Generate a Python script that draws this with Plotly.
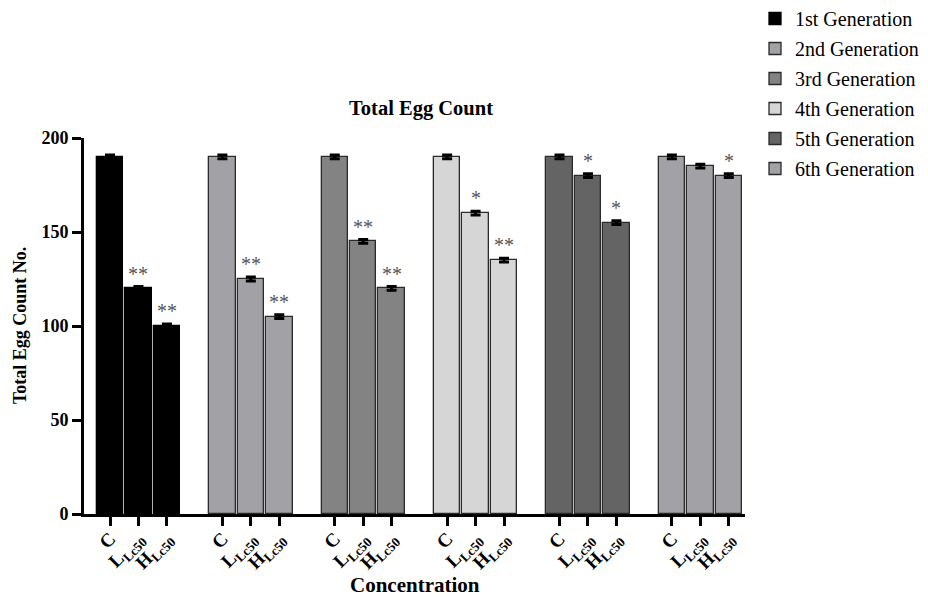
import plotly.graph_objects as go

generations = ["1st Generation", "2nd Generation", "3rd Generation",
               "4th Generation", "5th Generation", "6th Generation"]
concentrations = ["C", "L<sub>Lc50</sub>", "H<sub>Lc50</sub>"]
values = [
    [190, 120, 100],
    [190, 125, 105],
    [190, 145, 120],
    [190, 160, 135],
    [190, 180, 155],
    [190, 185, 180],
]
errors = [
    [1, 1, 1],
    [1, 1, 1],
    [1, 1, 1],
    [1, 1, 1],
    [1, 1, 1],
    [1, 1, 1],
]
significance = [
    ["", "**", "**"],
    ["", "**", "**"],
    ["", "**", "**"],
    ["", "*", "**"],
    ["", "*", "*"],
    ["", "", "*"],
]
colors = ["#000000", "#a2a2a6", "#838383", "#d6d6d6", "#646464", "#a2a2a6"]
yticks = [0, 50, 100, 150, 200]

GSTEP = 3.95
FONT = "Liberation Serif, Times New Roman, serif"
W, H = 928, 597
# page body adds an 8px offset; positions below are in figure pixels
L, R, T, B = 76, 737, 130, 506

fig = go.Figure()
tickvals, ticktext = [], []
annotations = []
for g, name in enumerate(generations):
    xs = [g * GSTEP + j for j in range(len(concentrations))]
    tickvals += xs
    ticktext += [f"<b>{c}</b>" for c in concentrations]
    fig.add_trace(go.Bar(
        x=xs, y=values[g], name=name, width=0.93,
        marker=dict(color=colors[g],
                    line=dict(color="#000000" if g == 0 else "#2a2a2a", width=1.3)),
        error_y=dict(type="data", array=errors[g], color="#000000",
                     thickness=3, width=5),
        legendgroup=name,
    ))
    for j, s in enumerate(significance[g]):
        if s:
            annotations.append(dict(
                x=xs[j], y=values[g][j] + errors[g][j], xref="x", yref="y",
                text=s, showarrow=False, yanchor="bottom", yshift=0,
                font=dict(family=FONT, size=20, color="#555555"),
            ))

annotations.append(dict(
    x=0.5, xref="paper", y=(B - 577) / (B - T), yref="paper",
    text="<b>Concentration</b>", showarrow=False, yanchor="middle",
    font=dict(family=FONT, size=21, color="#000000"),
))
annotations.append(dict(
    x=(12 - L) / (R - L), xref="paper", y=0.5, yref="paper",
    text="<b>Total Egg Count No.</b>", showarrow=False, textangle=-90,
    xanchor="center", yanchor="middle",
    font=dict(family=FONT, size=18, color="#000000"),
))

fig.update_layout(
    width=W, height=H,
    margin=dict(l=L, r=W - R, t=T, b=H - B, autoexpand=False),
    plot_bgcolor="white", paper_bgcolor="white",
    font=dict(family=FONT, color="#000000"),
    bargap=0,
    showlegend=True,
    title=dict(text="<b>Total Egg Count</b>", x=(413 - L) / (R - L), xref="paper",
               xanchor="center",
               y=1 - 100 / H, yref="container", yanchor="middle",
               font=dict(family=FONT, size=20.5, color="#000000")),
    legend=dict(x=(747 - L) / (R - L), xanchor="left",
                y=(B + 9) / (B - T), yanchor="top",
                font=dict(family=FONT, size=20, color="#000000"),
                tracegroupgap=1, bgcolor="rgba(0,0,0,0)"),
    annotations=annotations,
)
fig.update_xaxes(
    range=[-0.914, 22.32], tickmode="array", tickvals=tickvals, ticktext=ticktext,
    tickangle=-45, showline=True, linecolor="#000000", linewidth=3,
    ticks="outside", ticklen=9, tickwidth=3, tickcolor="#000000",
    showgrid=False, zeroline=False, automargin=False, ticklabelstandoff=-6,
    tickfont=dict(family=FONT, size=19, color="#000000"),
)
fig.update_yaxes(
    range=[0, 200], tickmode="array", tickvals=yticks,
    ticktext=[f"<b>{v}</b>" for v in yticks],
    showline=True, linecolor="#000000", linewidth=3,
    ticks="outside", ticklen=9, tickwidth=3, tickcolor="#000000",
    showgrid=False, zeroline=False, automargin=False,
    tickfont=dict(family=FONT, size=18, color="#000000"),
)
fig.write_html("out.html")
